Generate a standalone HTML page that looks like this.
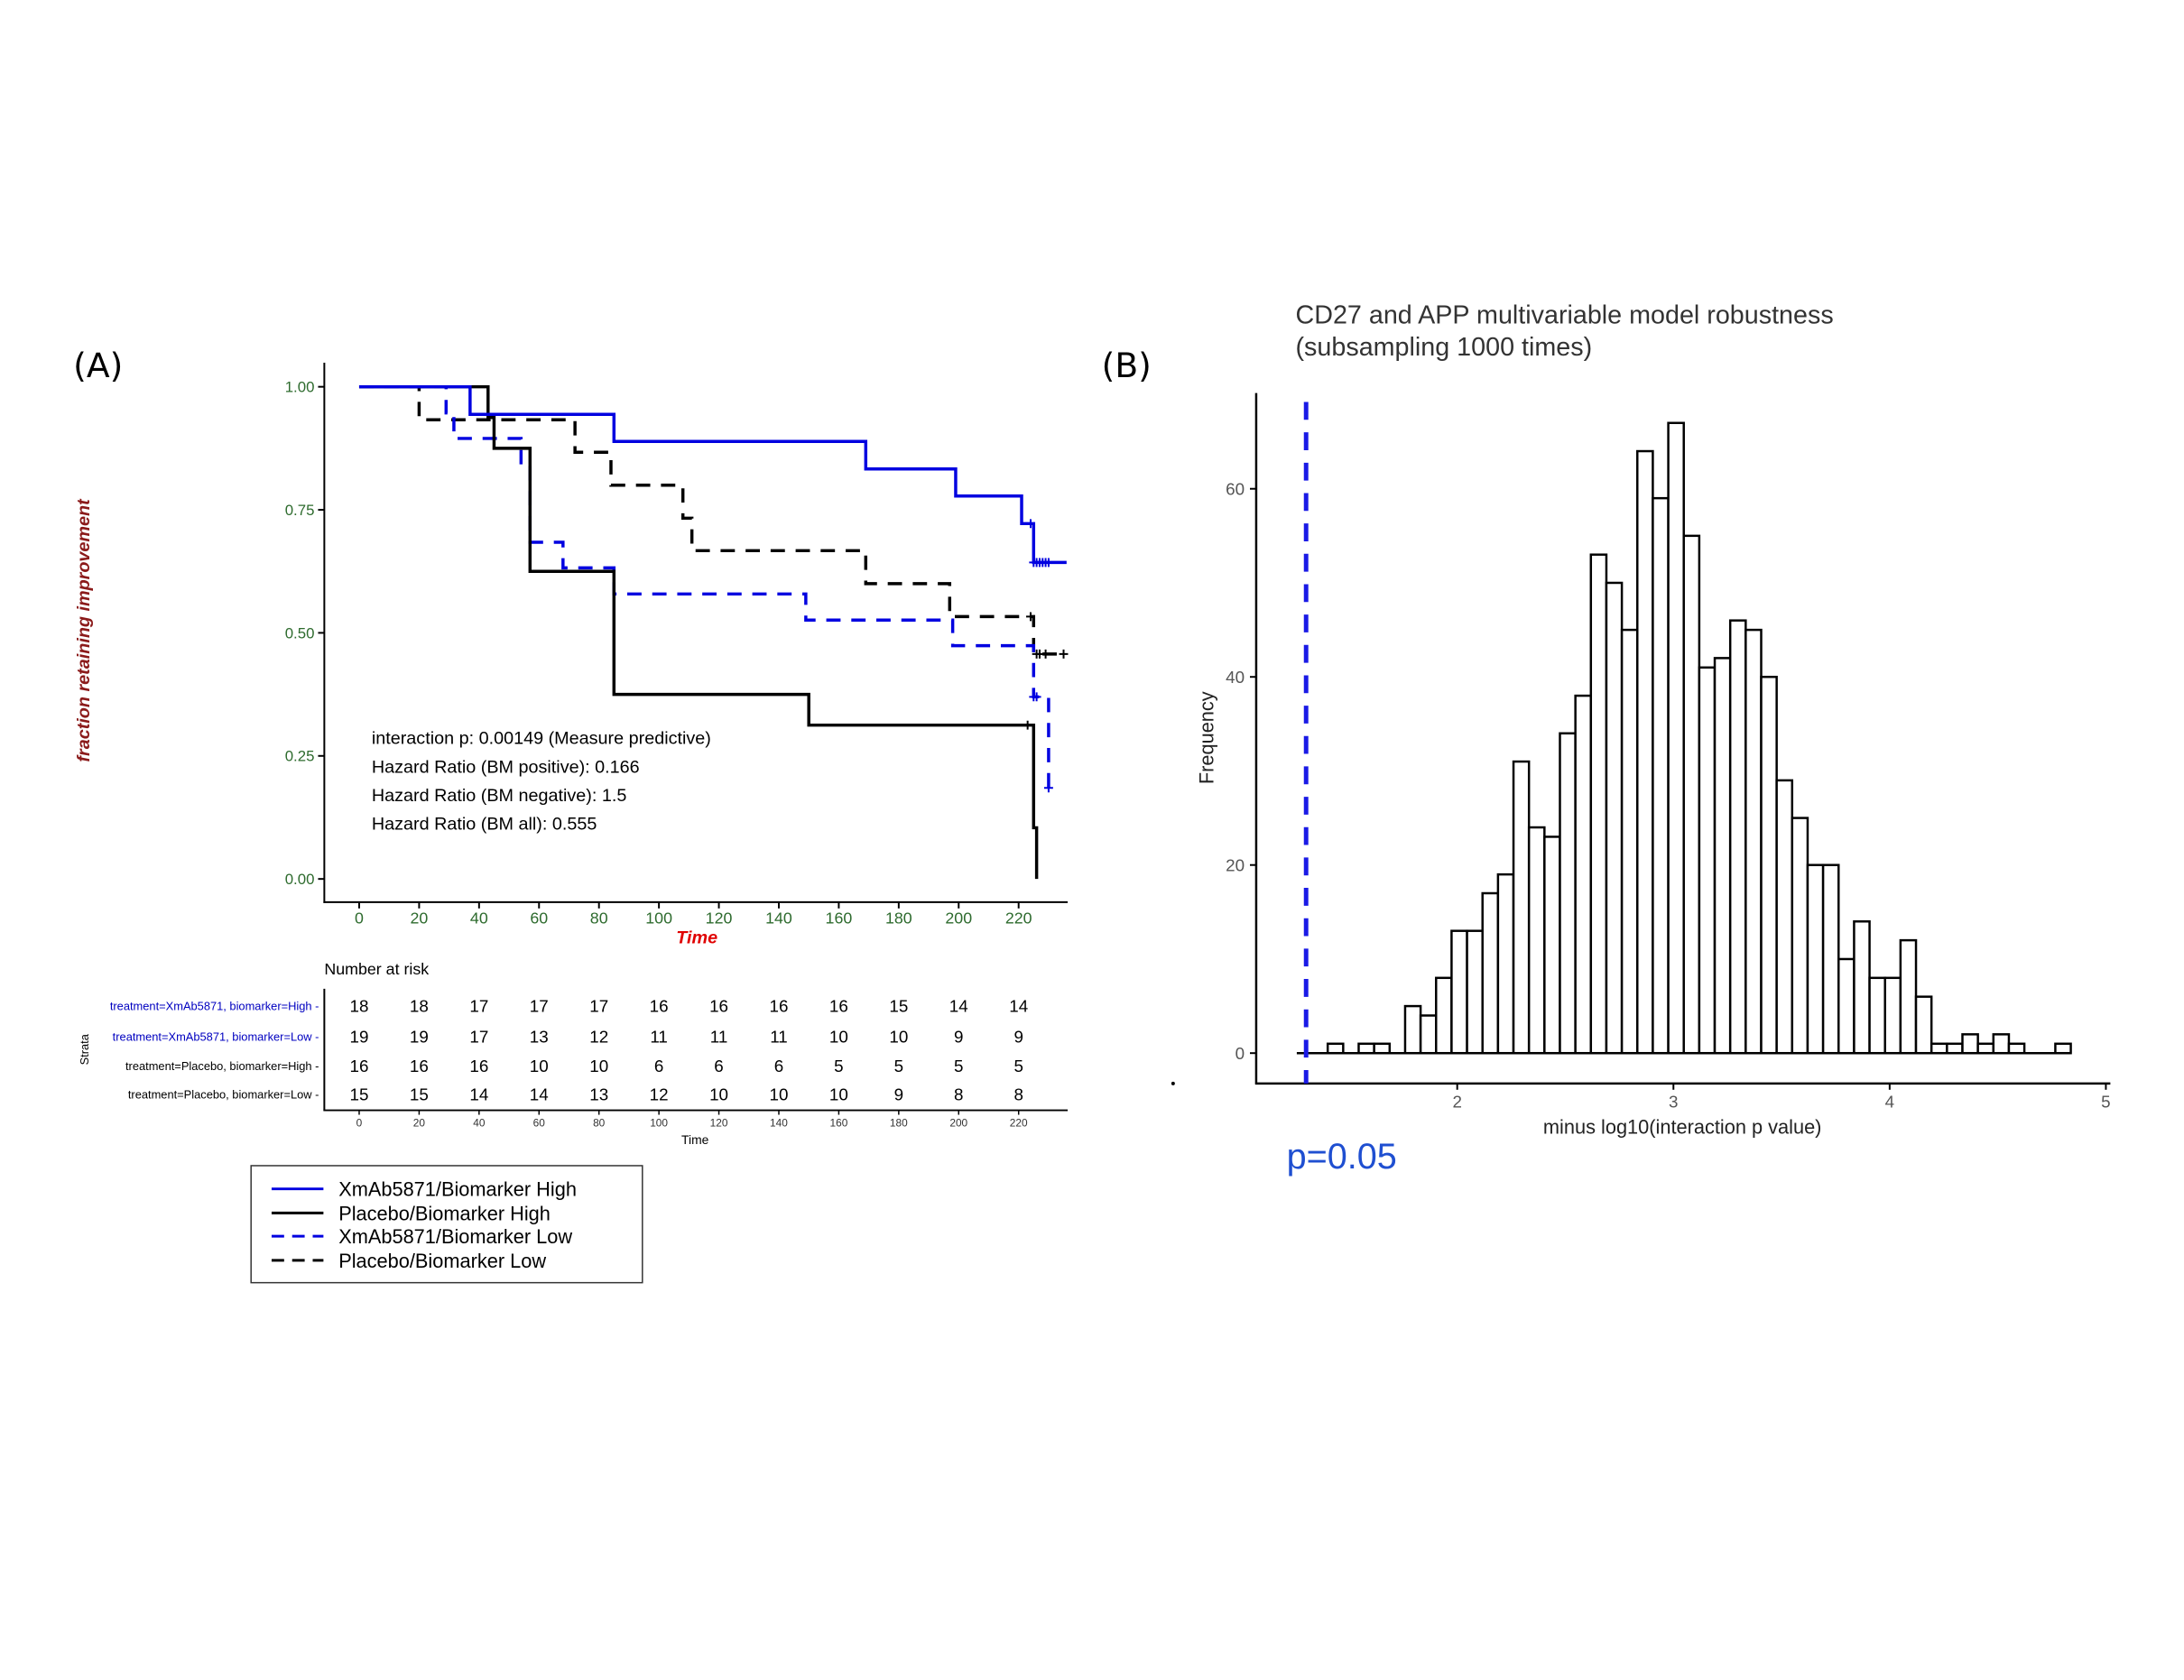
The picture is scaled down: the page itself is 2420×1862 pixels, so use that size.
<!DOCTYPE html>
<html><head><meta charset="utf-8"><style>
html,body{margin:0;padding:0;background:#fff;}
svg{display:block;font-family:"Liberation Sans",sans-serif;}
</style></head><body>
<svg id="fig" width="2420" height="1862" viewBox="0 0 2420 1862" xmlns="http://www.w3.org/2000/svg">
<g transform="scale(0.99)">
<g id="panelA">
<text x="82" y="422" font-family="DejaVu Sans, sans-serif" font-size="38">(A)</text>
<text transform="translate(100,706) rotate(-90)" text-anchor="middle" font-size="20" font-weight="bold" font-style="italic" fill="#8b1a1a">fraction retaining improvement</text>
<line x1="363" y1="406" x2="363" y2="1011" stroke="#000" stroke-width="2"/>
<line x1="362" y1="1010" x2="1195" y2="1010" stroke="#000" stroke-width="2"/>
<g id="kmAxesG"></g>
<g id="kmCurvesG"></g>
<text x="416" y="833" font-size="20">interaction p: 0.00149 (Measure predictive)</text>
<text x="416" y="865" font-size="20">Hazard Ratio (BM positive): 0.166</text>
<text x="416" y="897" font-size="20">Hazard Ratio (BM negative): 1.5</text>
<text x="416" y="929" font-size="20">Hazard Ratio (BM all): 0.555</text>
<text x="780" y="1056" text-anchor="middle" font-size="20" font-weight="bold" font-style="italic" fill="#e00000">Time</text>
<text x="363" y="1091" font-size="18">Number at risk</text>
<line x1="363" y1="1107" x2="363" y2="1243" stroke="#000" stroke-width="2"/>
<line x1="362" y1="1243" x2="1195" y2="1243" stroke="#000" stroke-width="2"/>
<text transform="translate(99,1175) rotate(-90)" text-anchor="middle" font-size="13">Strata</text>
<g id="riskTableG"></g>
<text x="778" y="1281" text-anchor="middle" font-size="14">Time</text>
<g>
<rect x="281" y="1305" width="438" height="131" fill="#fff" stroke="#333" stroke-width="1.5"/>
<line x1="304" y1="1331" x2="362" y2="1331" stroke="#0000e0" stroke-width="3"/>
<text x="379" y="1339" font-size="22">XmAb5871/Biomarker High</text>
<line x1="304" y1="1358" x2="362" y2="1358" stroke="#000" stroke-width="3"/>
<text x="379" y="1366" font-size="22">Placebo/Biomarker High</text>
<line x1="304" y1="1384" x2="362" y2="1384" stroke="#0000e0" stroke-width="3" stroke-dasharray="14,9"/>
<text x="379" y="1392" font-size="22">XmAb5871/Biomarker Low</text>
<line x1="304" y1="1411" x2="362" y2="1411" stroke="#000" stroke-width="3" stroke-dasharray="14,9"/>
<text x="379" y="1419" font-size="22">Placebo/Biomarker Low</text>
</g>
</g>
<g id="panelB">
<text x="1233" y="422" font-family="DejaVu Sans, sans-serif" font-size="38">(B)</text>
<text x="1450" y="362" font-size="29" fill="#333">CD27 and APP multivariable model robustness</text>
<text x="1450" y="398" font-size="29" fill="#333">(subsampling 1000 times)</text>
<line x1="1406" y1="440" x2="1406" y2="1214" stroke="#000" stroke-width="2.5"/>
<line x1="1405" y1="1213" x2="2362" y2="1213" stroke="#000" stroke-width="2.5"/>
<circle cx="1313" cy="1213" r="2" fill="#000"/>
<text transform="translate(1358,826) rotate(-90)" text-anchor="middle" font-size="22" fill="#222">Frequency</text>
<text x="1883" y="1269" text-anchor="middle" font-size="22" fill="#222">minus log10(interaction p value)</text>
<g id="histAxesG"></g>
<g id="histBarsG"></g>
<text x="1440" y="1308" font-size="40" fill="#1f4fd1">p=0.05</text>
</g>
</g>
</svg>
<script>
// ---------- Panel A data ----------
var kmTicks = [0,20,40,60,80,100,120,140,160,180,200,220];
var kmYTicks = [0,0.25,0.5,0.75,1.0];
var kmYTickLabels = ["0.00","0.25","0.50","0.75","1.00"];
var xmabHighTimes = [0,37,85,169,199,221,225,236];
var xmabHighSurv  = [1,0.944,0.889,0.833,0.778,0.722,0.643,0.643];
var placeboHighTimes = [0,43,45,57,85,150,225,226];
var placeboHighSurv  = [1,0.9375,0.875,0.625,0.375,0.3125,0.104,0];
var xmabLowTimes = [0,29,31.6,54,57,68,85,149,198,225,230];
var xmabLowSurv  = [1,0.947,0.895,0.842,0.684,0.632,0.579,0.526,0.474,0.370,0.185];
var placeboLowTimes = [0,20,72,84,108,111,169,197,225,236];
var placeboLowSurv  = [1,0.933,0.867,0.800,0.733,0.667,0.600,0.533,0.457,0.457];
var xmabHighCensT = [224,225,226,227,228,229,230];
var xmabHighCensS = [0.722,0.643,0.643,0.643,0.643,0.643,0.643];
var placeboHighCensT = [223];
var placeboHighCensS = [0.3125];
var xmabLowCensT = [225,226,230];
var xmabLowCensS = [0.37,0.37,0.185];
var placeboLowCensT = [224,226,227,229,235];
var placeboLowCensS = [0.533,0.457,0.457,0.457,0.457];
var riskStrata = ["treatment=XmAb5871, biomarker=High","treatment=XmAb5871, biomarker=Low","treatment=Placebo, biomarker=High","treatment=Placebo, biomarker=Low"];
var riskXmabHigh = [18,18,17,17,17,16,16,16,16,15,14,14];
var riskXmabLow = [19,19,17,13,12,11,11,11,10,10,9,9];
var riskPlaceboHigh = [16,16,16,10,10,6,6,6,5,5,5,5];
var riskPlaceboLow = [15,15,14,14,13,12,10,10,10,9,8,8];
// ---------- Panel B data ----------
var histStart = 1.401;
var histBinWidth = 0.0716;
var histCounts = [1,0,1,1,0,5,4,8,13,13,17,19,31,24,23,34,38,53,50,45,64,59,67,55,41,42,46,45,40,29,25,20,20,10,14,8,8,12,6,1,1,2,1,2,1,0,0,1];
var histXTicks = [2,3,4,5];
var histYTicks = [0,20,40,60];
var pThreshold = 1.301;

var NS = "http://www.w3.org/2000/svg";
function mk(tag, attrs, parent){var e=document.createElementNS(NS,tag);for(var k in attrs)e.setAttribute(k,attrs[k]);parent.appendChild(e);return e;}
function tx(t){return 402 + t*3.355;}
function sy(s){return 984 - s*551;}

var kmAxesEl = document.getElementById('kmAxesG');
kmTicks.forEach(function(t){
  var l=mk('line',{x1:tx(t),y1:1010,x2:tx(t),y2:1017,stroke:'#000','stroke-width':2},kmAxesEl);
  
  
  var tt=mk('text',{x:tx(t),y:1034,'text-anchor':'middle','font-size':18,fill:'#2e6b2e'},kmAxesEl);
  tt.textContent=t;
  
  
});
kmYTicks.forEach(function(v,i){
  var l=mk('line',{x1:356,y1:sy(v),x2:363,y2:sy(v),stroke:'#000','stroke-width':2},kmAxesEl);
  
  
  var tt=mk('text',{x:352,y:sy(v)+6,'text-anchor':'end','font-size':17,fill:'#2e6b2e'},kmAxesEl);
  tt.textContent=kmYTickLabels[i];
  
  
});
var kmCurvesEl=document.getElementById('kmCurvesG');
function stepPath(T,S){var d='M'+tx(T[0])+','+sy(S[0]);for(var i=1;i<T.length;i++){d+=' H'+tx(T[i])+' V'+sy(S[i]);}return d;}
function curve(T,S,color,dash,name){
  var attrs={d:stepPath(T,S),fill:'none',stroke:color,'stroke-width':3.5};
  if(dash)attrs['stroke-dasharray']=dash;
  var p=mk('path',attrs,kmCurvesEl);
  
  
}
function cens(T,S,color,name){
  T.forEach(function(t,i){
    var p=mk('path',{d:'M'+(tx(t)-5)+','+sy(S[i])+' h10 M'+tx(t)+','+(sy(S[i])-5)+' v10',stroke:color,'stroke-width':2},kmCurvesEl);
    
    
  });
}
curve(placeboLowTimes,placeboLowSurv,'#000','16,12','curve-placebo-low');
curve(xmabLowTimes,xmabLowSurv,'#0000e0','16,12','curve-xmab-low');
curve(placeboHighTimes,placeboHighSurv,'#000',null,'curve-placebo-high');
curve(xmabHighTimes,xmabHighSurv,'#0000e0',null,'curve-xmab-high');
cens(xmabHighCensT,xmabHighCensS,'#0000e0','censor-xmab-high');
cens(placeboHighCensT,placeboHighCensS,'#000','censor-placebo-high');
cens(xmabLowCensT,xmabLowCensS,'#0000e0','censor-xmab-low');
cens(placeboLowCensT,placeboLowCensS,'#000','censor-placebo-low');

var rtEl=document.getElementById('riskTableG');
var rowsY=[1126,1160,1193,1225];
var rows=[riskXmabHigh,riskXmabLow,riskPlaceboHigh,riskPlaceboLow];
var rowColors=['#0000c0','#0000c0','#000','#000'];
rows.forEach(function(r,ri){
  var lab=mk('text',{x:357,y:rowsY[ri]+5,'text-anchor':'end','font-size':13,fill:rowColors[ri]},rtEl);
  lab.textContent=riskStrata[ri]+' -';
  
  
  r.forEach(function(n,ci){
    var t=mk('text',{x:tx(kmTicks[ci]),y:rowsY[ri]+7,'text-anchor':'middle','font-size':19},rtEl);
    t.textContent=n;
    
    
  });
});
kmTicks.forEach(function(t){
  var l=mk('line',{x1:tx(t),y1:1243,x2:tx(t),y2:1248,stroke:'#000','stroke-width':1.5},rtEl);
  
  
  var tt=mk('text',{x:tx(t),y:1261,'text-anchor':'middle','font-size':12,fill:'#333'},rtEl);
  tt.textContent=t;
  
  
});

// ---------- Panel B ----------
function hx(v){return 1631 + (v-2)*242;}
function hy(c){return 1179 - c*10.53;}
var haEl=document.getElementById('histAxesG');
histXTicks.forEach(function(v){
  var l=mk('line',{x1:hx(v),y1:1213,x2:hx(v),y2:1220,stroke:'#000','stroke-width':2},haEl);
  
  
  var t=mk('text',{x:hx(v),y:1240,'text-anchor':'middle','font-size':19,fill:'#555'},haEl);
  t.textContent=v;
  
  
});
histYTicks.forEach(function(v){
  var l=mk('line',{x1:1399,y1:hy(v),x2:1406,y2:hy(v),stroke:'#000','stroke-width':2},haEl);
  
  
  var t=mk('text',{x:1393,y:hy(v)+7,'text-anchor':'end','font-size':19,fill:'#555'},haEl);
  t.textContent=v;
  
  
});
var hbEl=document.getElementById('histBarsG');
var baseLine=mk('line',{x1:hx(1.258),y1:hy(0),x2:hx(histStart+histBinWidth*histCounts.length),y2:hy(0),stroke:'#000','stroke-width':2.5},hbEl);


histCounts.forEach(function(c,i){
  if(c<=0)return;
  var x0=hx(histStart+i*histBinWidth), x1=hx(histStart+(i+1)*histBinWidth);
  var r=mk('rect',{x:x0,y:hy(c),width:x1-x0,height:hy(0)-hy(c),fill:'#fff',stroke:'#000','stroke-width':2.5},hbEl);
  
  
});
var pl=mk('line',{x1:hx(pThreshold),y1:450,x2:hx(pThreshold),y2:1213,stroke:'#1a1ae6','stroke-width':5,'stroke-dasharray':'20,14'},hbEl);


</script>
</body></html>
